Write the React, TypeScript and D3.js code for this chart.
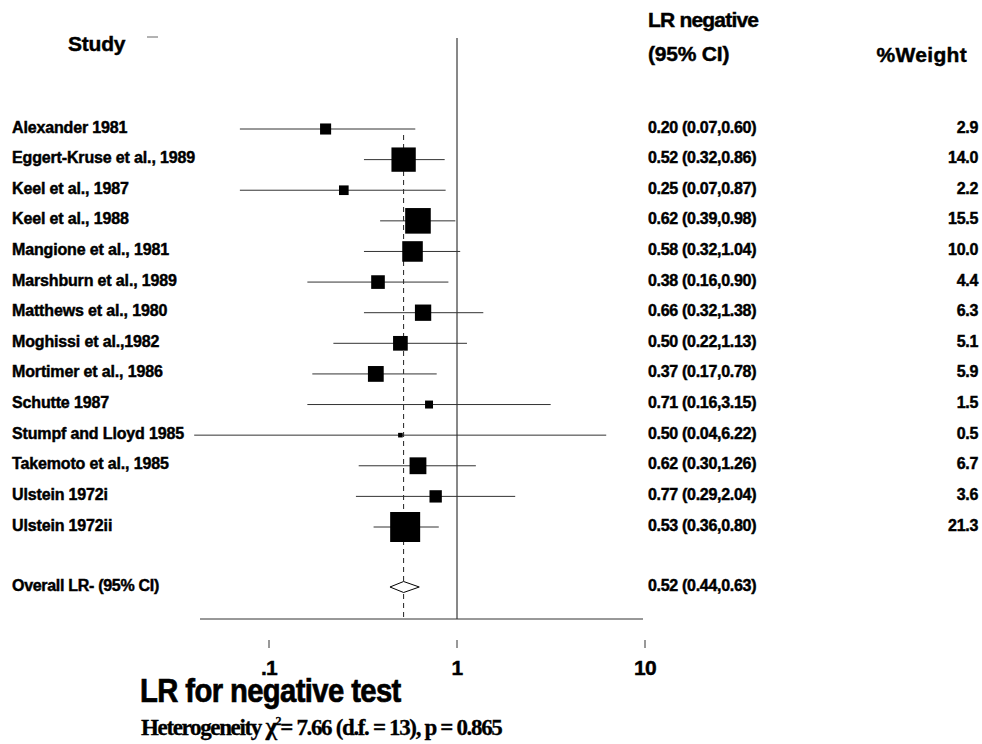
import React from "react";
import * as d3 from "d3";

const studies = [
  "Alexander 1981",
  "Eggert-Kruse et al., 1989",
  "Keel  et al., 1987",
  "Keel et al., 1988",
  "Mangione et al., 1981",
  "Marshburn et  al., 1989",
  "Matthews et al., 1980",
  "Moghissi et al.,1982",
  "Mortimer et al., 1986",
  "Schutte 1987",
  "Stumpf and Lloyd 1985",
  "Takemoto et al., 1985",
  "Ulstein 1972i",
  "Ulstein 1972ii",
];
const lr = [0.2, 0.52, 0.25, 0.62, 0.58, 0.38, 0.66, 0.5, 0.37, 0.71, 0.5, 0.62, 0.77, 0.53];
const lower = [0.07, 0.32, 0.07, 0.39, 0.32, 0.16, 0.32, 0.22, 0.17, 0.16, 0.04, 0.3, 0.29, 0.36];
const upper = [0.6, 0.86, 0.87, 0.98, 1.04, 0.9, 1.38, 1.13, 0.78, 3.15, 6.22, 1.26, 2.04, 0.8];
const weight = [2.9, 14.0, 2.2, 15.5, 10.0, 4.4, 6.3, 5.1, 5.9, 1.5, 0.5, 6.7, 3.6, 21.3];
const overall = { lr: 0.52, lower: 0.44, upper: 0.63 };
const ticks = [0.1, 1, 10];
const tickLabels = [".1", "1", "10"];

const fmt = d3.format(".2f");
const sans = "'Liberation Sans', Arial, sans-serif";
const serif = "'Liberation Serif', 'Times New Roman', serif";

// bold, slightly thickened text like the original print
const heavy = (size: number, spacing: number) => ({
  fontFamily: sans,
  fontWeight: "bold" as const,
  fontSize: size,
  letterSpacing: spacing,
  stroke: "#000",
  strokeWidth: 0.45,
});

export default function App() {
  const x = d3.scaleLog().domain([0.1, 10]).range([269, 645]);
  const y = d3.scaleLinear().domain([0, studies.length - 1]).range([129, 527]);
  const overallY = 587;
  const axisY = 619;
  const side = (w: number) => 6.5 * Math.sqrt(w);

  const diamond = [
    [x(overall.lower), overallY],
    [x(overall.lr), overallY - 5.5],
    [x(overall.upper), overallY],
    [x(overall.lr), overallY + 5.5],
  ];

  return (
    <svg
      width={982}
      height={744}
      style={{ position: "absolute", left: 0, top: 0, background: "#fff" }}
    >
      {/* header */}
      <g fill="#000">
        <text x={68} y={51} {...heavy(21, -0.2)}>Study</text>
        <line x1={147} x2={158} y1={37} y2={37} stroke="#666" />
        <text x={648} y={27} {...heavy(21, -0.8)}>LR negative</text>
        <text x={648} y={61} {...heavy(21, -0.2)}>(95% CI)</text>
        <text x={967} y={62} textAnchor="end" {...heavy(21, 0.3)}>%Weight</text>
      </g>

      {/* reference lines */}
      <line x1={x(1)} x2={x(1)} y1={38} y2={axisY} stroke="#111" strokeWidth={1} />
      <line
        x1={x(overall.lr)}
        x2={x(overall.lr)}
        y1={135}
        y2={axisY}
        stroke="#222"
        strokeDasharray="5,4"
      />

      {/* studies */}
      {studies.map((s, i) => (
        <g key={s}>
          <line
            x1={x(lower[i])}
            x2={x(upper[i])}
            y1={y(i)}
            y2={y(i)}
            stroke="#333"
            strokeWidth={1}
          />
          <rect
            x={x(lr[i]) - side(weight[i]) / 2}
            y={y(i) - side(weight[i]) / 2}
            width={side(weight[i])}
            height={side(weight[i])}
            fill="#000"
          />
          <text x={12} y={y(i) + 3.5} {...heavy(16, -0.15)}>
            {s}
          </text>
          <text x={648} y={y(i) + 3.5} {...heavy(16, -0.3)}>
            {`${fmt(lr[i])} (${fmt(lower[i])},${fmt(upper[i])})`}
          </text>
          <text x={978} y={y(i) + 3.5} textAnchor="end" {...heavy(16, -0.3)}>
            {weight[i].toFixed(1)}
          </text>
        </g>
      ))}

      {/* overall */}
      <polygon points={diamond.map((p) => p.join(",")).join(" ")} fill="#fff" stroke="#000" />
      <text x={12} y={overallY + 3.5} {...heavy(16, -0.3)}>
        Overall LR- (95% CI)
      </text>
      <text x={648} y={overallY + 3.5} {...heavy(16, -0.3)}>
        {`${fmt(overall.lr)} (${fmt(overall.lower)},${fmt(overall.upper)})`}
      </text>

      {/* axis */}
      <line x1={200} x2={643} y1={axisY} y2={axisY} stroke="#333" />
      {ticks.map((t, i) => (
        <g key={t}>
          <line x1={x(t)} x2={x(t)} y1={640} y2={648} stroke="#333" />
          <text x={x(t)} y={675} textAnchor="middle" {...heavy(21, -0.8)}>
            {tickLabels[i]}
          </text>
        </g>
      ))}
      <text
        transform="translate(140,702) scale(0.86,1)"
        {...heavy(34, -0.7)}
        strokeWidth={0.7}
      >
        LR for negative test
      </text>
      <text
        x={141}
        y={735}
        fontFamily={serif}
        fontWeight="bold"
        fontSize={23}
        letterSpacing={-1.35}
        stroke="#000"
        strokeWidth={0.3}
      >
        Heterogeneity <tspan fontSize={25}>χ</tspan>
        <tspan dy={-10} fontSize={12}>2</tspan>
        <tspan dy={10}>= 7.66 (d.f. = 13), p = 0.865</tspan>
      </text>
    </svg>
  );
}
